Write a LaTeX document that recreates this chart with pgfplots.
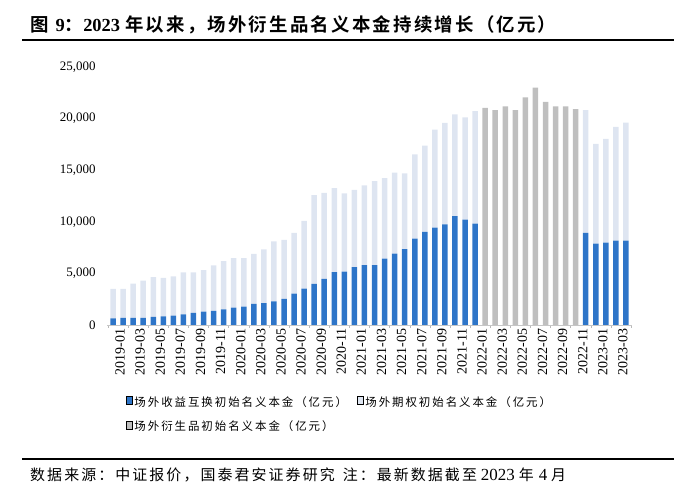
\documentclass[border=0pt]{standalone}
\usepackage{fontspec}
\usepackage{pgfplots}
\usepackage{pgfplotstable}
\pgfplotsset{compat=1.18}
\setmainfont{Liberation Serif}
\newfontfamily\cjkleg[LetterSpace=17]{Noto Sans CJK SC}
\newfontfamily\cjkfoot[LetterSpace=14]{Noto Sans CJK SC}
\newfontfamily\cjktitle[LetterSpace=12]{Noto Sans CJK SC Bold}
\definecolor{blueC}{RGB}{46,117,200}
\definecolor{lightC}{RGB}{222,229,241}
\definecolor{grayC}{RGB}{191,191,191}
\pgfplotsset{/pgfplots/ybar legend/.style={/pgfplots/legend image code/.code={\fill[##1] (0bp,-3.5bp) rectangle (7bp,3.5bp);}}}

% x: month index (1 = 2019-01 ... 52 = 2023-04)
% swap: 场外收益互换初始名义本金, opt: 场外期权初始名义本金, deriv: 场外衍生品初始名义本金
\pgfplotstableread{
x swap opt deriv
1 650 2850 0
2 700 2800 0
3 700 3320 0
4 700 3610 0
5 780 3860 0
6 840 3730 0
7 910 3790 0
8 1040 4050 0
9 1170 3920 0
10 1300 4020 0
11 1360 4410 0
12 1520 4670 0
13 1690 4800 0
14 1780 4710 0
15 2040 4840 0
16 2110 5220 0
17 2300 5810 0
18 2530 5710 0
19 3050 5870 0
20 3530 6560 0
21 3990 8590 0
22 4480 8330 0
23 5120 8140 0
24 5160 7600 0
25 5610 7490 0
26 5800 7720 0
27 5800 8140 0
28 6420 7820 0
29 6910 7850 0
30 7360 7330 0
31 8370 8170 0
32 9020 8360 0
33 9440 9500 0
34 9760 9830 0
35 10540 9860 0
36 10220 9890 0
37 9830 10890 0
38 0 0 21050
39 0 0 20820
40 0 0 21180
41 0 0 20820
42 0 0 22050
43 0 0 22990
44 0 0 21630
45 0 0 21180
46 0 0 21180
47 0 0 20920
48 8920 11900 0
49 7880 9660 0
50 7980 10050 0
51 8170 11030 0
52 8170 11450 0
}\data

\begin{document}
\begin{tikzpicture}
\path[use as bounding box] (0,0) rectangle (700bp,501bp);
% title
\node[anchor=west, inner sep=0pt, font=\fontsize{18.5}{20}\selectfont] at (30bp,476bp)
  {{\cjktitle 图}\hspace{7bp}{\bfseries 9}{\cjktitle ：}{\bfseries 2023}\hspace{5bp}{\cjktitle 年以来，场外衍生品名义本金持续增长（亿元）}};
\draw[line width=1.5bp] (22bp,461bp) -- (674bp,461bp);
\draw[line width=1.5bp] (22bp,42bp) -- (674bp,42bp);
\node[anchor=west, inner sep=0pt, font=\fontsize{15}{16}\selectfont] at (30bp,26bp)
  {{\cjkfoot 数据来源：中证报价，国泰君安证券研究}\hspace{8bp}{\cjkfoot 注：最新数据截至}\hspace{4bp}{\fontsize{17}{17}\selectfont 2023}\hspace{4bp}{\cjkfoot 年}\hspace{5bp}{\fontsize{17}{17}\selectfont 4}\hspace{4bp}{\cjkfoot 月}};
\begin{axis}[
  at={(107bp,176bp)}, anchor=south west,
  scale only axis, width=525bp, height=258bp,
  ybar stacked, bar width=5.5bp,
  xmin=0.4, xmax=52.6, ymin=0, ymax=25000,
  axis x line*=bottom, axis y line*=left,
  x axis line style={draw=gray!45},
  y axis line style={draw=none},
  ytick={0,5000,10000,15000,20000,25000},
  ytick style={draw=none},
  yticklabel style={font=\fontsize{13}{13}\selectfont, xshift=-5bp},
  scaled y ticks=false,
  /pgf/number format/.cd, fixed, 1000 sep={,}, assume math mode=true, /pgfplots/.cd,
  xtick={0.5,2.5,...,52.5}, xticklabels={},
  xtick style={draw=gray!55, thin},
  major tick length=3bp, tick align=outside,
  extra x ticks={1,3,...,51},
  extra x tick labels={2019-01,2019-03,2019-05,2019-07,2019-09,2019-11,2020-01,2020-03,2020-05,2020-07,2020-09,2020-11,2021-01,2021-03,2021-05,2021-07,2021-09,2021-11,2022-01,2022-03,2022-05,2022-07,2022-09,2022-11,2023-01,2023-03},
  extra x tick style={major tick length=0pt, xticklabel style={rotate=90, anchor=east, font=\fontsize{14}{14}\selectfont, yshift=-7bp}},
  legend style={at={(0.036,-0.27)}, anchor=north west, draw=none, fill=none,
    font=\fontsize{11.5}{13}\selectfont, legend columns=2,
    /tikz/every even column/.append style={column sep=8bp},
    row sep=9bp, inner sep=0pt},
  legend cell align=left,
]
\addplot[fill=blueC, draw=none] table[x=x, y=swap]{\data};
\addlegendentry{\cjkleg 场外收益互换初始名义本金（亿元）}
\addplot[fill=lightC, draw=none] table[x=x, y=opt]{\data};
\addlegendentry{\cjkleg 场外期权初始名义本金（亿元）}
\addplot[fill=grayC, draw=none] table[x=x, y=deriv]{\data};
\addlegendentry{\cjkleg 场外衍生品初始名义本金（亿元）}
\end{axis}
\end{tikzpicture}
\end{document}
